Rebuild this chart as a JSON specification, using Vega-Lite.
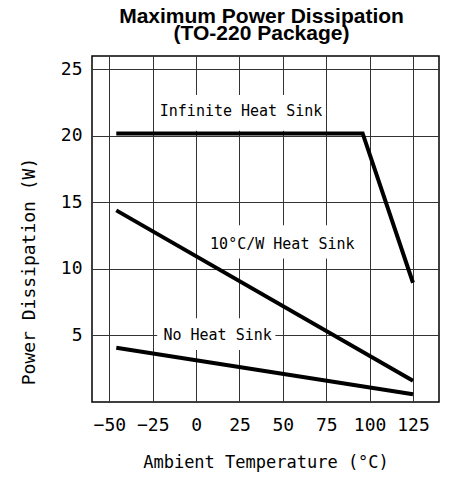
{
  "$schema": "https://vega.github.io/schema/vega-lite/v6.json",
  "autosize": {"type": "none"},
  "width": 347,
  "height": 346,
  "padding": {"left": 92, "top": 56, "right": 19, "bottom": 75},
  "background": "white",
  "config": {
    "view": {"stroke": "#000", "strokeWidth": 1.5},
    "axis": {
      "labelFont": "DejaVu Sans Mono",
      "titleFont": "DejaVu Sans Mono",
      "labelColor": "#000",
      "titleColor": "#000",
      "titleFontWeight": "normal",
      "domain": false,
      "ticks": false,
      "gridColor": "#333",
      "gridOpacity": 1,
      "gridWidth": 1
    }
  },
  "title": {
    "text": ["Maximum Power Dissipation", "(TO-220 Package)"],
    "font": "Liberation Sans",
    "fontSize": 21,
    "fontWeight": "bold",
    "lineHeight": 17,
    "color": "#000",
    "anchor": "middle",
    "frame": "group",
    "offset": 12,
    "dx": -4
  },
  "datasets": {
    "curves": [
      {"series": "Infinite Heat Sink", "temp": -46, "power": 20.18},
      {"series": "Infinite Heat Sink", "temp": 96, "power": 20.18},
      {"series": "Infinite Heat Sink", "temp": 125, "power": 8.96},
      {"series": "10°C/W Heat Sink", "temp": -46, "power": 14.4},
      {"series": "10°C/W Heat Sink", "temp": 125, "power": 1.6},
      {"series": "No Heat Sink", "temp": -46, "power": 4.07},
      {"series": "No Heat Sink", "temp": 125, "power": 0.58}
    ],
    "labels": [
      {"label": "Infinite Heat Sink", "temp": 25.9, "power": 21.88, "t1": -19.5, "t2": 71.0, "p1": 20.38, "p2": 23.07},
      {"label": "10°C/W Heat Sink", "temp": 49.7, "power": 11.9, "t1": 3.3, "t2": 96.6, "p1": 10.79, "p2": 13.29},
      {"label": "No Heat Sink", "temp": 12.4, "power": 5.02, "t1": -22.4, "t2": 45.7, "p1": 3.9, "p2": 6.29}
    ]
  },
  "layer": [
    {
      "data": {"name": "labels"},
      "mark": {"type": "rect", "fill": "white", "stroke": null},
      "encoding": {
        "x": {"field": "t1", "type": "quantitative", "scale": {"domain": [-50, 125]},
          "axis": {"values": [-50, -25, 0, 25, 50, 75, 100, 125], "title": "Ambient Temperature (°C)", "labelFontSize": 18, "titleFontSize": 17, "labelPadding": 14, "titlePadding": 20}},
        "x2": {"field": "t2"},
        "y": {"field": "p1", "type": "quantitative", "scale": {"domain": [0, 25]},
          "axis": {"values": [5, 10, 15, 20, 25], "title": "Power Dissipation (W)", "labelFontSize": 18, "titleFontSize": 18, "labelPadding": 10, "titlePadding": 22, "titleY": 215}},
        "y2": {"field": "p2"}
      }
    },
    {
      "data": {"name": "labels"},
      "mark": {"type": "text", "font": "DejaVu Sans Mono", "fontSize": 15, "color": "#000", "align": "center", "baseline": "middle"},
      "encoding": {
        "x": {"field": "temp", "type": "quantitative"},
        "y": {"field": "power", "type": "quantitative"},
        "text": {"field": "label"}
      }
    },
    {
      "data": {"name": "curves"},
      "mark": {"type": "line", "color": "#000", "strokeWidth": 4, "strokeCap": "butt", "strokeJoin": "miter"},
      "encoding": {
        "x": {"field": "temp", "type": "quantitative"},
        "y": {"field": "power", "type": "quantitative"},
        "detail": {"field": "series"}
      }
    }
  ]
}
